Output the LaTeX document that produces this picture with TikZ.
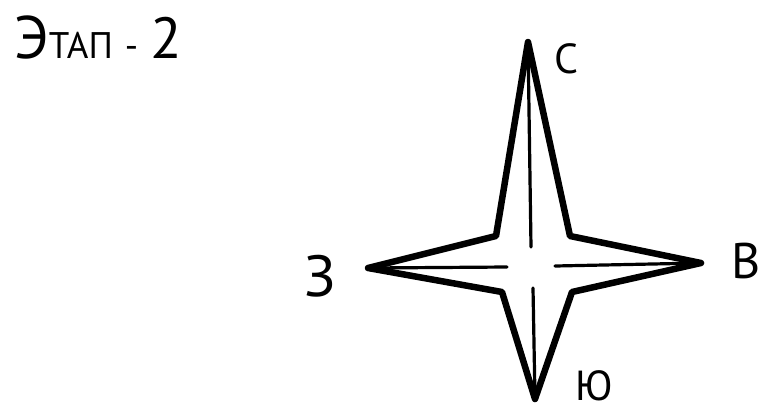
\documentclass[tikz,border=0pt]{standalone}
\usepackage{fontspec}
\setmainfont{PT Sans}
\tikzset{
  starline/.style={line width=6.5pt, line join=round, line cap=round, black},
  axisline/.style={line width=3.2pt, line cap=round, black},
  lbl/.style={inner sep=0pt, text=black}
}
\begin{document}
\begin{tikzpicture}[x=1pt,y=-1pt]
\useasboundingbox[fill=white] (0,0) rectangle (762,416);
% star points
\coordinate (N) at (528,42);
\coordinate (NE) at (570,236);
\coordinate (E) at (701,263);
\coordinate (SE) at (572,292);
\coordinate (S) at (535,399);
\coordinate (SW) at (502,292);
\coordinate (W) at (368,268);
\coordinate (NW) at (496,236);
% inner ends
\coordinate (Ni) at (531,247);
\coordinate (Ei) at (555,266);
\coordinate (Si) at (533,288);
\coordinate (Wi) at (507,267);
\draw[starline] (N) -- (NE) -- (E) -- (SE) -- (S) -- (SW) -- (W) -- (NW) -- cycle;
\draw[axisline] (N) -- (Ni);
\draw[axisline] (E) -- (Ei);
\draw[axisline] (S) -- (Si);
\draw[axisline] (W) -- (Wi);
% labels
\node[lbl] (lc) at (566,59) {\fontsize{42}{44}\selectfont С};
\node[lbl] (lv) at (746,261) {\fontsize{50}{52}\selectfont В};
\node[lbl] (lyu) at (594,386) {\fontsize{42}{44}\selectfont Ю};
\node[lbl] (lz) at (320,276) {\fontsize{58}{60}\selectfont З};
\node[lbl, anchor=base west] (title) at (14,58) {{\fontsize{60}{62}\selectfont Э}{\fontsize{37}{40}\selectfont ТАП\hspace{12pt}-\hspace{12pt}}{\fontsize{58}{60}\selectfont 2}};
\end{tikzpicture}
\end{document}
